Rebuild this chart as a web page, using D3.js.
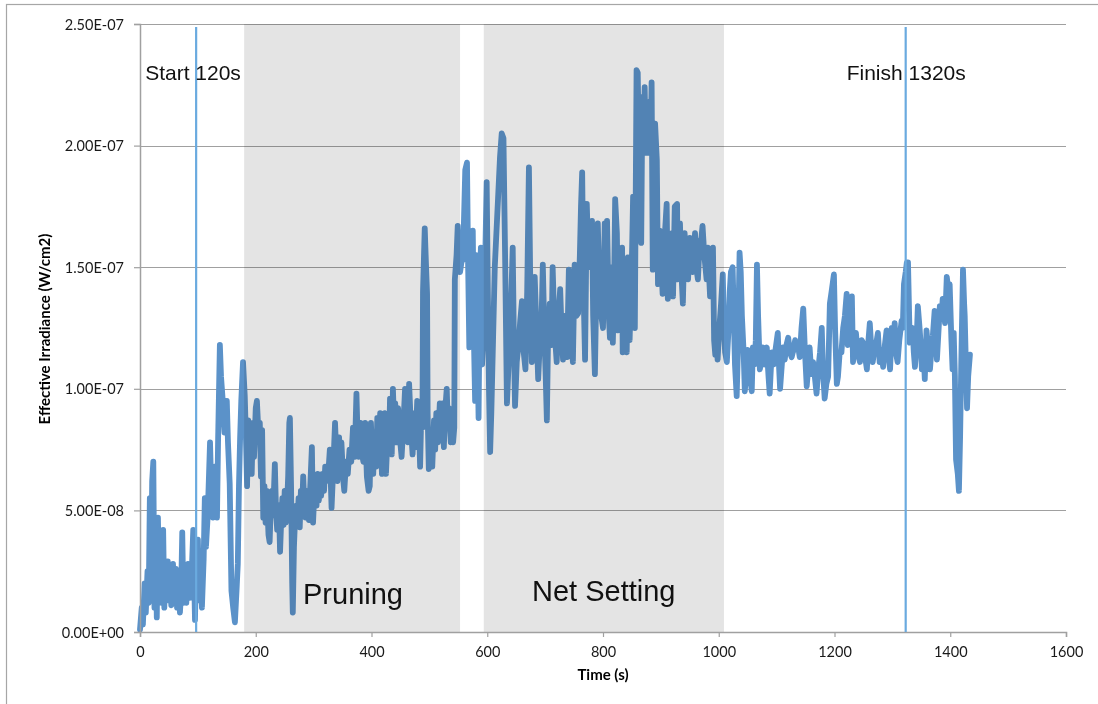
<!DOCTYPE html>
<html>
<head>
<meta charset="utf-8">
<script src="https://cdn.jsdelivr.net/npm/d3@7"></script>
<style>
  body { margin: 0; background: #fff; }
  svg { display: block; }
  .tick text { font-family: Lato, "Open Sans", sans-serif; font-size: 14.5px; fill: #1a1a1a; }
</style>
</head>
<body>
<svg id="chart" width="1098" height="704"></svg>
<script>
// time (s) and effective irradiance (units of 1E-08 W/cm2)
const UNIT = 1e-8;
const times = [
  0,3,5,8,10,13,15,17,19,21,23,25,27,29,31,33,35,37,40,42,44,46,48,50,52,54,57,59,62,64,66,69,71,73,75,78,80,83,86,89,
  92,95,97,100,102,105,107,110,112,114,117,121,123,126,129,131,133,135,138,140,143,146,150,152,155,158,161,164,167,169,
  171,173,175,178,181,183,185,187,189,191,193,195,197,200,202,205,207,209,211,213,215,217,219,222,224,226,228,230,233,235,
  237,240,242,244,246,248,250,252,254,256,258,259,261,263,264,266,268,270,272,274,276,278,280,282,284,286,288,290,292,294,
  297,299,301,303,305,307,309,311,313,315,318,320,322,325,328,331,334,337,339,341,344,346,348,351,353,356,359,362,365,368,
  371,374,376,378,381,383,386,389,392,395,397,399,401,403,405,408,410,412,415,418,420,423,425,428,430,432,435,437,439,441,
  443,446,449,452,455,458,461,463,465,468,471,474,476,479,482,484,486,488,489,492,494,496,497,499,501,503,505,508,510,512,
  515,518,520,523,525,527,530,532,534,537,539,541,543,544,547,549,551,553,556,558,562,565,567,569,571,573,575,577,579,581,
  583,585,587,589,591,593,595,597,599,601,603,605,607,610,613,618,622,625,628,631,634,637,640,644,646,648,651,654,657,660,
  663,666,669,672,674,677,680,682,685,688,691,694,696,699,701,703,705,708,711,713,716,720,723,726,729,731,734,738,741,745,
  748,751,754,757,760,762,764,766,769,772,775,778,781,783,786,788,791,794,797,800,803,805,807,810,812,815,817,819,821,824,
  826,829,833,834,838,841,843,846,850,852,855,858,860,862,864,866,868,870,872,874,876,878,880,882,884,886,888,890,893,895,
  898,901,903,906,910,912,915,919,921,924,928,929,933,935,938,941,944,947,950,952,955,959,961,964,967,970,972,975,979,981,
  985,988,990,992,994,996,998,1001,1004,1007,1009,1011,1014,1017,1019,1021,1024,1026,1028,1031,1033,1036,1038,1040,1043,1045,1047,1050,1053,1057,
  1059,1062,1064,1066,1068,1071,1074,1076,1079,1081,1083,1086,1088,1090,1092,1095,1098,1102,1104,1106,1109,1111,1114,1117,1120,1123,1126,1129,1132,1135,
  1138,1140,1143,1146,1149,1152,1155,1157,1160,1163,1166,1169,1172,1175,1178,1180,1183,1186,1189,1192,1195,1199,1201,1204,1206,1209,1212,1215,1218,1221,
  1223,1226,1230,1232,1235,1237,1240,1244,1247,1249,1253,1256,1258,1261,1264,1266,1270,1273,1275,1278,1281,1284,1287,1290,1293,1296,1299,1302,1304,1306,
  1309,1312,1316,1318,1320,1323,1325,1327,1330,1333,1335,1337,1339,1342,1344,1347,1349,1351,1354,1356,1359,1362,1365,1368,1370,1373,1375,1377,1380,1382,
  1385,1387,1391,1394,1397,1399,1402,1404,1406,1408,1410,1413,1415,1417,1419,1422,1424,1425,1427,1429,1431,1434
];
const irradiance = [
  0.1,1.0,0.3,2.0,0.8,2.5,1.2,5.5,1.5,6.2,7.0,1.0,4.0,0.6,4.7,1.8,3.6,1.2,4.2,1.0,2.8,1.6,2.9,1.3,2.6,1.1,2.8,1.6,2.6,1.0,2.4,0.8,1.6,4.1,1.2,2.5,1.2,2.8,1.4,2.2,
  4.2,0.5,2.8,3.8,1.3,2.6,1.0,3.0,5.5,3.5,4.8,7.8,6.0,4.7,6.8,5.2,4.7,8.0,11.8,10.5,9.5,8.2,9.5,7.8,6.1,1.7,1.0,0.4,1.8,2.8,
  6.0,8.0,9.5,11.1,9.7,8.0,6.0,8.7,7.5,8.2,6.5,8.6,7.2,9.2,9.5,8.0,8.6,6.4,8.3,4.7,6.0,4.5,5.8,4.0,3.7,5.2,5.8,4.8,6.9,5.0,
  4.2,5.2,3.3,4.6,5.5,4.4,5.8,4.5,5.2,6.4,8.6,8.8,6.0,2.0,0.8,3.5,4.7,5.2,4.5,5.5,4.3,5.8,5.0,6.4,5.2,4.7,5.8,5.5,4.6,5.9,
  7.6,4.5,5.6,6.2,5.2,6.5,5.4,6.2,5.6,6.5,5.8,6.8,6.2,6.4,7.5,5.1,6.8,8.6,7.4,6.2,8.0,6.9,7.8,6.3,5.8,7.0,6.5,7.5,7.0,8.4,
  7.2,9.8,8.0,7.2,8.6,7.4,7.0,8.6,6.4,5.8,6.0,8.6,7.4,6.5,8.0,6.8,8.8,7.5,9.0,6.5,8.7,9.0,6.5,8.2,7.4,9.6,7.3,10.0,8.6,9.4,
  7.8,9.2,8.0,7.2,8.5,10.0,8.8,7.8,10.2,8.5,7.3,9.0,7.6,9.5,8.4,6.8,9.0,8.4,14.0,16.6,15.2,13.9,9.0,6.7,7.0,8.2,6.8,8.7,7.5,9.0,
  7.8,9.4,8.2,9.4,7.6,9.0,10.0,8.4,9.2,7.8,8.6,7.8,8.4,14.5,15.5,16.7,15.4,14.8,15.3,15.3,19.0,19.3,15.0,11.7,13.0,15.6,16.5,12.0,9.5,15.5,
  12.0,8.8,14.0,15.8,11.0,12.0,12.5,16.0,18.5,14.0,10.0,7.4,9.0,12.0,15.0,17.5,19.5,20.5,20.3,15.2,9.4,11.1,12.5,15.8,12.0,9.3,11.1,11.8,12.8,13.6,
  11.5,10.8,14.0,19.1,15.0,11.1,13.0,14.6,12.5,10.4,12.0,13.0,15.1,12.0,10.5,8.7,12.0,13.5,11.8,15.0,12.5,11.1,13.0,14.1,12.0,11.2,13.0,11.3,14.9,12.0,
  11.1,15.1,13.0,13.1,15.5,17.5,18.9,14.5,11.2,17.6,15.0,16.0,16.9,13.0,10.6,13.5,16.8,14.0,13.0,12.5,16.8,14.0,16.9,13.0,12.1,15.0,11.9,14.0,17.8,16.4,
  12.4,14.0,15.8,11.5,12.5,11.5,15.4,12.0,15.4,17.9,12.5,23.1,23.0,20.0,17.9,16.0,22.0,19.7,22.4,19.7,21.8,19.7,21.0,19.7,22.6,14.9,18.0,20.9,19.4,14.3,
  16.5,15.0,13.9,16.0,17.6,13.7,15.5,16.4,13.8,17.5,17.6,14.5,16.8,15.0,13.5,16.4,15.0,14.5,16.2,15.0,14.8,16.4,15.0,14.5,16.0,16.2,16.7,15.5,14.5,15.8,
  13.8,15.0,15.8,12.0,11.4,12.3,11.2,12.5,13.5,14.7,12.5,11.5,11.1,12.5,14.0,14.8,15.0,13.0,11.0,9.7,11.5,15.6,14.8,13.0,11.5,9.9,10.5,11.6,10.8,9.9,
  11.7,11.0,12.0,15.1,13.0,10.8,11.2,11.7,11.0,11.5,11.7,10.5,9.8,10.8,11.5,11.0,11.6,12.3,11.0,10.0,11.0,11.7,11.2,11.8,12.1,11.5,11.3,11.6,12.0,11.6,
  11.6,11.3,12.5,13.3,11.5,10.1,11.0,11.7,10.6,11.1,10.5,9.8,10.8,11.5,12.5,10.8,9.6,10.2,10.5,13.5,14.0,14.7,12.5,10.2,10.5,11.5,11.5,12.5,13.0,13.9,
  11.8,12.5,13.8,11.1,11.8,12.3,11.5,11.1,12.0,11.9,11.3,10.8,11.8,12.7,11.5,11.1,11.8,12.0,12.3,11.1,11.6,10.9,11.8,12.4,11.5,10.8,12.5,12.0,12.7,11.5,
  11.1,12.0,12.8,12.5,14.3,14.8,15.2,15.2,11.9,12.3,12.5,11.5,10.9,12.0,13.4,12.5,11.8,10.8,11.5,10.4,12.4,11.5,10.8,11.8,12.2,13.2,12.0,11.2,12.5,13.4,
  13.0,13.7,12.7,14.6,14.0,14.3,12.0,10.8,12.3,10.5,7.1,6.5,5.8,8.0,11.0,14.9,13.5,13.0,11.0,9.2,10.5,11.4
];
const xTicks = [0, 200, 400, 600, 800, 1000, 1200, 1400, 1600];
const yTicks = [0, 5e-8, 1e-7, 1.5e-7, 2e-7, 2.5e-7];
// shaded phases [from, to] in seconds, and marker lines
const phases = [
  { name: 'Pruning', from: 180, to: 553 },
  { name: 'Net Setting', from: 594, to: 1009 }
];
const markers = [
  { label: 'Start 120s', t: 97 },
  { label: 'Finish 1320s', t: 1323 }
];

const data = times.map((t, i) => ({ t: t, v: irradiance[i] * UNIT }));

const svg = d3.select('#chart');
const plotL = 140, plotR = 1066, plotT = 24, plotB = 632;

const x = d3.scaleLinear().domain([0, 1600]).range([plotL, plotR]);
const y = d3.scaleLinear().domain([0, 2.5e-7]).range([plotB, plotT]);

// outer chart border
svg.append('rect')
  .attr('x', 6.5).attr('y', 4.5)
  .attr('width', 1098).attr('height', 720)
  .attr('fill', 'none').attr('stroke', '#a6a6a6').attr('stroke-width', 1.2);

// horizontal gridlines
svg.append('g')
  .selectAll('line')
  .data(yTicks.slice(1))
  .enter().append('line')
  .attr('x1', plotL).attr('x2', plotR)
  .attr('y1', d => Math.round(y(d)) + 0.5)
  .attr('y2', d => Math.round(y(d)) + 0.5)
  .attr('stroke', '#a0a0a0').attr('stroke-width', 1.2);

// series line
const line = d3.line().x(d => x(d.t)).y(d => y(d.v));
svg.append('path')
  .datum(data)
  .attr('d', line)
  .attr('fill', 'none')
  .attr('stroke', '#5b92c9')
  .attr('stroke-width', 5.8)
  .attr('stroke-linejoin', 'round')
  .attr('stroke-linecap', 'round');

// shaded phases, multiplied over the line
svg.append('g')
  .selectAll('rect')
  .data(phases)
  .enter().append('rect')
  .attr('x', d => x(d.from))
  .attr('width', d => x(d.to) - x(d.from))
  .attr('y', plotT).attr('height', plotB - plotT)
  .attr('fill', '#e4e4e4')
  .style('mix-blend-mode', 'multiply');

// axes
const fmt = v => v.toExponential(2).toUpperCase().replace(/E([+-])(\d)$/, 'E$10$2');

const yAxis = svg.append('g')
  .attr('transform', `translate(${plotL},0)`)
  .call(d3.axisLeft(y).tickValues(yTicks).tickFormat(fmt).tickSize(6).tickPadding(10));
const xAxis = svg.append('g')
  .attr('transform', `translate(0,${plotB})`)
  .call(d3.axisBottom(x).tickValues(xTicks).tickFormat(d3.format('d')).tickSize(5).tickPadding(10));
[yAxis, xAxis].forEach(g => {
  g.select('.domain').attr('stroke', '#a0a0a0').attr('stroke-width', 1.5);
  g.selectAll('.tick line').attr('stroke', '#a0a0a0').attr('stroke-width', 1.2);
});
yAxis.selectAll('.tick text').attr('dy', '0.35em');

// start / finish markers
svg.append('g')
  .selectAll('line')
  .data(markers)
  .enter().append('line')
  .attr('x1', d => x(d.t)).attr('x2', d => x(d.t))
  .attr('y1', 27).attr('y2', plotB)
  .attr('stroke', '#6aaadf').attr('stroke-width', 2.2);

svg.selectAll('.marker-label')
  .data(markers)
  .enter().append('text')
  .attr('class', 'marker-label')
  .attr('x', d => x(d.t) - (d.t < 500 ? 51 : 59))
  .attr('y', 80)
  .attr('font-family', '"Liberation Sans", Arial, sans-serif')
  .attr('font-size', 21)
  .attr('fill', '#111')
  .text(d => d.label);

svg.selectAll('.phase-label')
  .data(phases)
  .enter().append('text')
  .attr('class', 'phase-label')
  .attr('x', (d, i) => i === 0 ? 303 : 532)
  .attr('y', (d, i) => i === 0 ? 604 : 601)
  .attr('font-family', '"Liberation Sans", Arial, sans-serif')
  .attr('font-size', 29)
  .attr('fill', '#111')
  .text(d => d.name);

// axis titles
svg.append('text')
  .attr('x', 603).attr('y', 680)
  .attr('text-anchor', 'middle')
  .attr('font-family', 'Lato, sans-serif').attr('font-size', 15).attr('font-weight', 'bold')
  .text('Time (s)');

svg.append('text')
  .attr('transform', 'translate(50,329) rotate(-90)')
  .attr('text-anchor', 'middle')
  .attr('font-family', 'Lato, sans-serif').attr('font-size', 15).attr('font-weight', 'bold')
  .text('Effective Irradiance (W/cm2)');
</script>
</body>
</html>
